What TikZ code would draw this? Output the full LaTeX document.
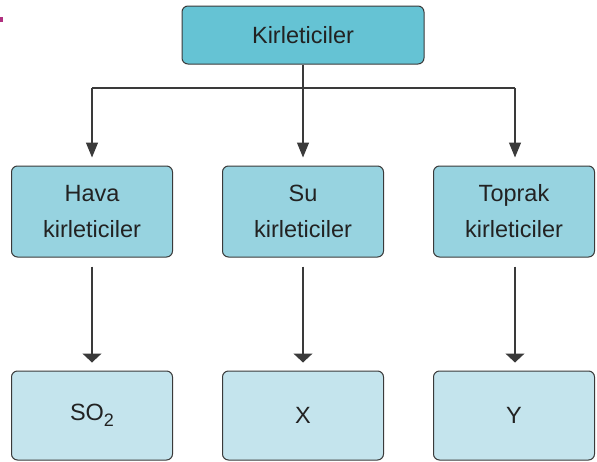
\documentclass[tikz,border=0pt]{standalone}
\usepackage{fontspec}
\setmainfont{Liberation Sans}
\usetikzlibrary{arrows.meta}
\definecolor{topfill}{HTML}{65C3D4}
\definecolor{midfill}{HTML}{97D3E0}
\definecolor{botfill}{HTML}{C4E4ED}
\definecolor{edge}{HTML}{3A3A3A}
\definecolor{ink}{HTML}{222222}
\definecolor{markcol}{HTML}{B0307F}
\begin{document}
\begin{tikzpicture}[x=1pt,y=-1pt,
  box/.style={draw=edge, line width=1pt, rounded corners=6pt, inner sep=0pt,
    align=center, text=ink, font=\fontsize{23.5}{36}\selectfont},
  topbox/.style={box, fill=topfill, minimum width=242pt, minimum height=58pt},
  midbox/.style={box, fill=midfill, minimum width=161pt, minimum height=91pt},
  botbox/.style={box, fill=botfill, minimum width=161pt, minimum height=89pt},
  conn/.style={draw=edge, line width=1.2pt},
  arrA/.style={conn, -{Triangle[width=12pt,length=15pt]}, shorten >=8pt},
  arrB/.style={conn, -{Triangle[width=19pt,length=9pt]}, shorten >=8pt, shorten <=9pt}]
\useasboundingbox (0,0) rectangle (597,461);
\fill[markcol] (0,17) rectangle (3,22);
\node[topbox] (top) at (303,35) {Kirleticiler};
\node[midbox] (m1) at (92,211.5) {Hava\\kirleticiler};
\node[midbox] (m2) at (303,211.5) {Su\\kirleticiler};
\node[midbox] (m3) at (514,211.5) {Toprak\\kirleticiler};
\node[botbox] (b1) at (92,415.5) {SO\raisebox{-6pt}{\fontsize{18}{18}\selectfont 2}};
\node[botbox] (b2) at (303,415.5) {X};
\node[botbox] (b3) at (514,415.5) {Y};
\coordinate (jl) at (92,88);
\coordinate (jr) at (515,88);
\draw[conn] (jl) -- (jr);
\draw[arrA] (top.south) -- (m2.north);
\draw[arrA] (jl) -- (m1.north);
\draw[arrA] (jr) -- (m3.north -| jr);
\draw[arrB] (m1.south) -- (b1.north);
\draw[arrB] (m2.south) -- (b2.north);
\draw[arrB] (m3.south -| jr) -- (b3.north -| jr);
\end{tikzpicture}
\end{document}
